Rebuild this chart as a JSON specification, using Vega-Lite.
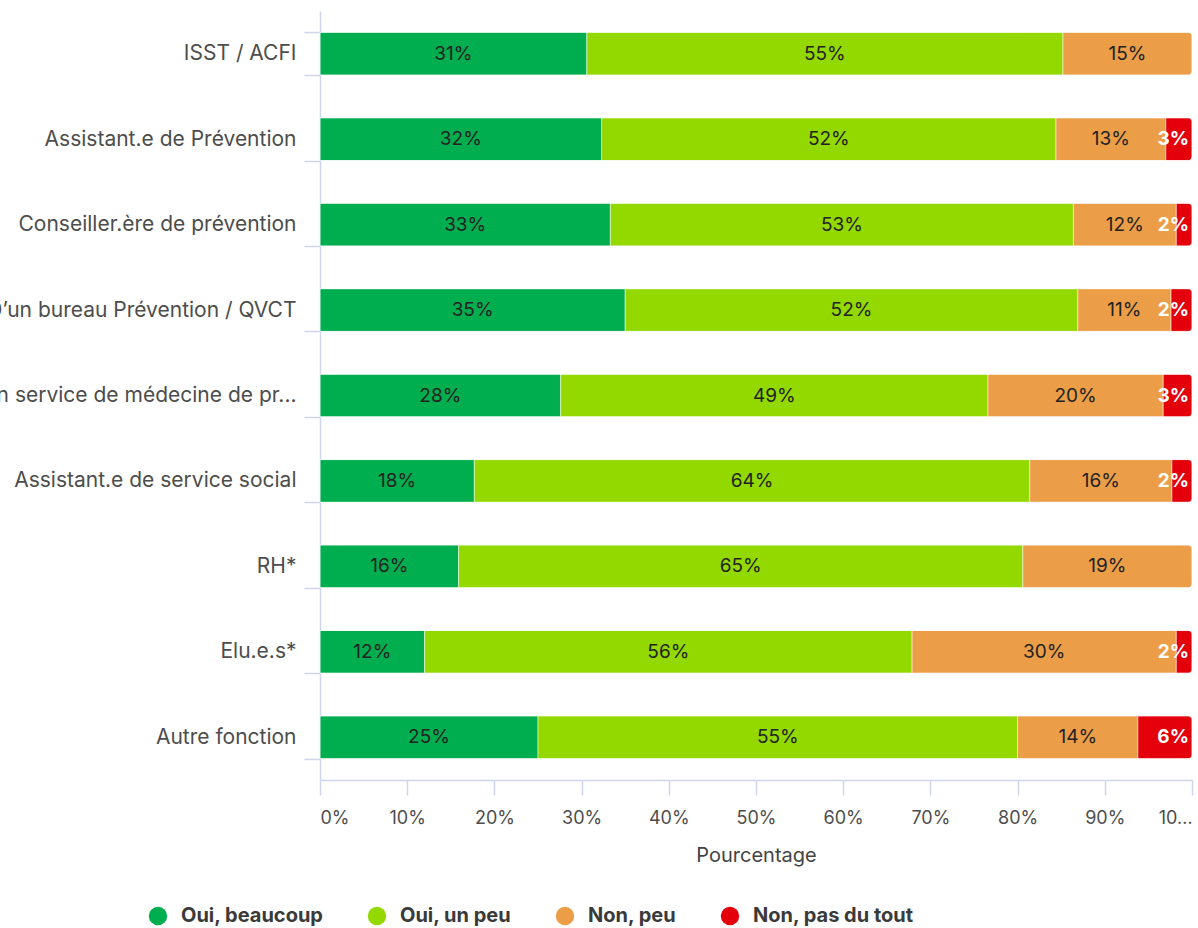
{
  "$schema": "https://vega.github.io/schema/vega-lite/v6.json",
  "width": 872,
  "height": 769,
  "autosize": {"type": "none"},
  "padding": {"left": 320, "top": 11, "right": 6, "bottom": 148},
  "config": {"view": {"stroke": null}, "font": "Inter"},
  "data": {
    "values": [
      {"role": "ISST / ACFI", "answer": "Oui, beaucoup", "order": 1, "value": 0.306},
      {"role": "ISST / ACFI", "answer": "Oui, un peu", "order": 2, "value": 0.546},
      {"role": "ISST / ACFI", "answer": "Non, peu", "order": 3, "value": 0.148},
      {"role": "Assistant.e de Prévention", "answer": "Oui, beaucoup", "order": 1, "value": 0.323},
      {"role": "Assistant.e de Prévention", "answer": "Oui, un peu", "order": 2, "value": 0.521},
      {"role": "Assistant.e de Prévention", "answer": "Non, peu", "order": 3, "value": 0.126},
      {"role": "Assistant.e de Prévention", "answer": "Non, pas du tout", "order": 4, "value": 0.030},
      {"role": "Conseiller.ère de prévention", "answer": "Oui, beaucoup", "order": 1, "value": 0.333},
      {"role": "Conseiller.ère de prévention", "answer": "Oui, un peu", "order": 2, "value": 0.531},
      {"role": "Conseiller.ère de prévention", "answer": "Non, peu", "order": 3, "value": 0.118},
      {"role": "Conseiller.ère de prévention", "answer": "Non, pas du tout", "order": 4, "value": 0.018},
      {"role": "D’un bureau Prévention / QVCT", "answer": "Oui, beaucoup", "order": 1, "value": 0.350},
      {"role": "D’un bureau Prévention / QVCT", "answer": "Oui, un peu", "order": 2, "value": 0.519},
      {"role": "D’un bureau Prévention / QVCT", "answer": "Non, peu", "order": 3, "value": 0.107},
      {"role": "D’un bureau Prévention / QVCT", "answer": "Non, pas du tout", "order": 4, "value": 0.024},
      {"role": "Un service de médecine de pr...", "answer": "Oui, beaucoup", "order": 1, "value": 0.276},
      {"role": "Un service de médecine de pr...", "answer": "Oui, un peu", "order": 2, "value": 0.490},
      {"role": "Un service de médecine de pr...", "answer": "Non, peu", "order": 3, "value": 0.201},
      {"role": "Un service de médecine de pr...", "answer": "Non, pas du tout", "order": 4, "value": 0.033},
      {"role": "Assistant.e de service social", "answer": "Oui, beaucoup", "order": 1, "value": 0.177},
      {"role": "Assistant.e de service social", "answer": "Oui, un peu", "order": 2, "value": 0.637},
      {"role": "Assistant.e de service social", "answer": "Non, peu", "order": 3, "value": 0.163},
      {"role": "Assistant.e de service social", "answer": "Non, pas du tout", "order": 4, "value": 0.023},
      {"role": "RH*", "answer": "Oui, beaucoup", "order": 1, "value": 0.159},
      {"role": "RH*", "answer": "Oui, un peu", "order": 2, "value": 0.647},
      {"role": "RH*", "answer": "Non, peu", "order": 3, "value": 0.194},
      {"role": "Elu.e.s*", "answer": "Oui, beaucoup", "order": 1, "value": 0.120},
      {"role": "Elu.e.s*", "answer": "Oui, un peu", "order": 2, "value": 0.559},
      {"role": "Elu.e.s*", "answer": "Non, peu", "order": 3, "value": 0.303},
      {"role": "Elu.e.s*", "answer": "Non, pas du tout", "order": 4, "value": 0.018},
      {"role": "Autre fonction", "answer": "Oui, beaucoup", "order": 1, "value": 0.250},
      {"role": "Autre fonction", "answer": "Oui, un peu", "order": 2, "value": 0.550},
      {"role": "Autre fonction", "answer": "Non, peu", "order": 3, "value": 0.138},
      {"role": "Autre fonction", "answer": "Non, pas du tout", "order": 4, "value": 0.062}
    ]
  },
  "encoding": {
    "y": {
      "field": "role",
      "type": "nominal",
      "sort": ["ISST / ACFI", "Assistant.e de Prévention", "Conseiller.ère de prévention", "D’un bureau Prévention / QVCT", "Un service de médecine de pr...", "Assistant.e de service social", "RH*", "Elu.e.s*", "Autre fonction"],
      "scale": {"paddingInner": 0.5, "paddingOuter": 0.25},
      "axis": {
        "title": null,
        "tickBand": "extent",
        "tickSize": 16,
        "labelPadding": 8,
        "domainColor": "#cdd6ea",
        "tickColor": "#cdd6ea",
        "domainWidth": 1.5,
        "tickWidth": 1.5,
        "labelFontSize": 21,
        "labelColor": "#4d4d4d",
        "labelLimit": 0
      }
    },
    "x": {
      "field": "value",
      "type": "quantitative",
      "stack": "zero",
      "scale": {"domain": [0, 1]},
      "axis": {
        "title": "Pourcentage",
        "format": ".0%",
        "values": [0, 0.1, 0.2, 0.3, 0.4, 0.5, 0.6, 0.7, 0.8, 0.9, 1],
        "grid": false,
        "tickSize": 15,
        "labelPadding": 14,
        "labelFontSize": 18,
        "labelColor": "#4d4d4d",
        "labelLimit": 42,
        "domainColor": "#cdd6ea",
        "tickColor": "#cdd6ea",
        "domainWidth": 1.5,
        "tickWidth": 1.5,
        "titleFontSize": 20,
        "titleFontWeight": "normal",
        "titleColor": "#444444",
        "titlePadding": 18
      }
    }
  },
  "layer": [
    {
      "mark": {"type": "bar", "cornerRadiusEnd": 4, "stroke": "#ffffff", "strokeOpacity": 0.5, "strokeWidth": 1},
      "encoding": {
        "color": {
          "field": "answer",
          "type": "nominal",
          "sort": ["Oui, beaucoup", "Oui, un peu", "Non, peu", "Non, pas du tout"],
          "scale": {
            "domain": ["Oui, beaucoup", "Oui, un peu", "Non, peu", "Non, pas du tout"],
            "range": ["#00ad4f", "#93d900", "#eb9e47", "#e4000b"]
          },
          "legend": {
            "title": null,
            "orient": "none",
            "direction": "horizontal",
            "legendX": -172,
            "legendY": 895,
            "padding": 0,
            "symbolType": "circle",
            "symbolSize": 340,
            "symbolStrokeWidth": 0,
            "labelOffset": 13,
            "labelFontSize": 20,
            "labelFontWeight": "bold",
            "labelColor": "#3a3a3a",
            "columnPadding": 43,
            "labelLimit": 0
          }
        },
        "order": {"field": "order"}
      }
    },
    {
      "transform": [{"filter": "datum.answer !== 'Non, pas du tout'"}],
      "mark": {"type": "text", "fontSize": 19, "color": "#222222"},
      "encoding": {
        "x": {"field": "value", "type": "quantitative", "stack": "zero", "bandPosition": 0.5},
        "text": {"field": "value", "type": "quantitative", "format": ".0%"},
        "order": {"field": "order"}
      }
    },
    {
      "mark": {"type": "text", "fontSize": 19, "fontWeight": "bold", "color": "#ffffff", "align": "right", "dx": -3},
      "encoding": {
        "x": {"field": "value", "type": "quantitative", "stack": "zero", "bandPosition": 1},
        "text": {"field": "value", "type": "quantitative", "format": ".0%"},
        "order": {"field": "order"},
        "opacity": {"condition": {"test": "datum.answer === 'Non, pas du tout'", "value": 1}, "value": 0}
      }
    }
  ]
}
